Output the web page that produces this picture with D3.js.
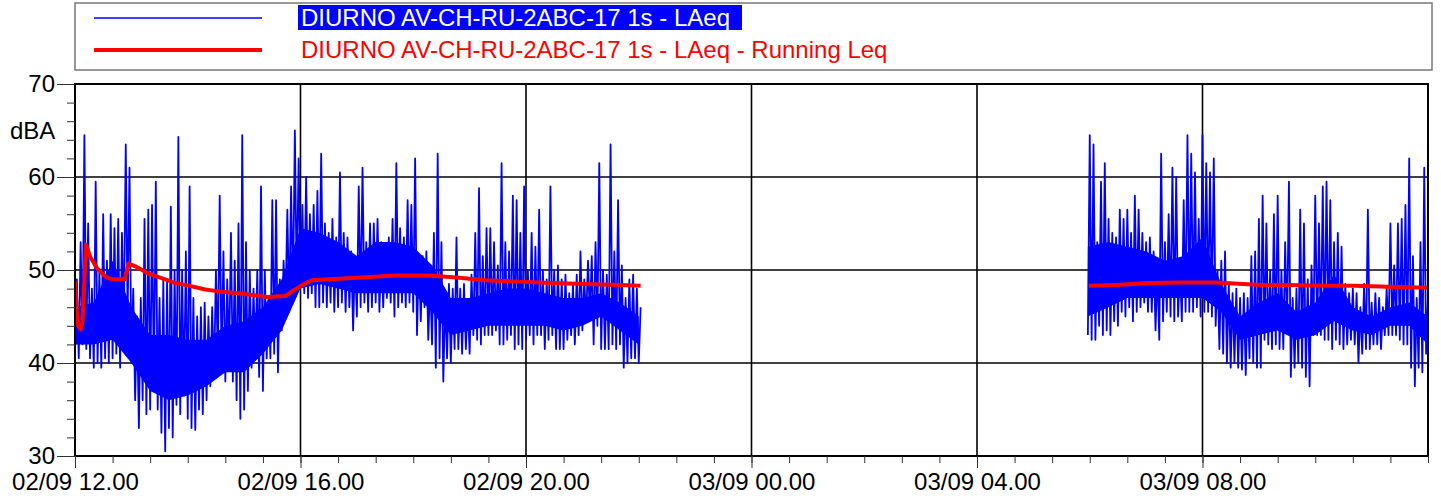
<!DOCTYPE html>
<html>
<head>
<meta charset="utf-8">
<script src="https://cdn.jsdelivr.net/npm/d3@7"></script>
<style>
  body { margin: 0; background: #fff; }
  svg { display: block; font-family: "Liberation Sans", Arial, sans-serif; }
</style>
</head>
<body>
<script>
// LAeq 1s, read as low/high envelope per 4 minute bucket
const seg1Start = new Date(2000, 8, 2, 12, 0)   // 02/09 12.00
const seg1Lo = [41,40.5,42,41.5,40.5,39.5,40,39.5,40.5,40,40.5,41,39.5,44,45,40.5,36,33,36,34.5,
  35,37,35,32.5,30.5,33,32,35.5,34.5,36.5,34,33,32.8,35,34.5,36,37.5,38.5,40.5,40,
  38,40.5,38,36,34,35,37,39.5,40.5,38.5,37,40.5,40.5,41,39,43.5,46,45.5,47,48,
  48.5,47.5,47,47.5,46,46,46.5,46,46.5,45.5,46,46.5,45.5,46,43.5,45,46,46.5,45.5,46,
  46.5,45.5,46,47,46.5,45,46,46.5,46,46.5,45.5,43,44.5,46,42.5,42,39.5,40.5,38,40.5,
  40,41.5,41.5,41,41.5,41,43,42.5,42,43,43,43,43.5,42,42,42.5,43,41.5,42,41.5,
  42.5,43,42,43,43,41.5,42.5,43,41.5,41.5,41.5,42.5,43,42,43,43.5,44.5,45,42,44,
  41.5,41.5,41.5,42,41.5,42,39.5,40,40.5,40.5,40]
const seg1Hi = [49,53,64.5,55,48,59.5,50,56,51,56,54.5,55.5,54,63.5,61,48,45,47,55.5,56.5,
  57,59.5,47,49,49,56.8,50,64.3,50,52,59,47,45,46,46.5,45,46,50,58,52,
  49,54,51,55,64.5,53,50,48,50,59,50,47,57.5,57.5,49,51,56.5,59,65,62,
  57,60,56,57,58.5,62.5,55,54,55.5,53.5,60.5,54,53.5,52,51.5,59,61,53,55,55,
  55.5,53,51.5,53.5,55.5,61.5,54.5,53.5,57.5,57,62,51.5,51.5,52,49,54,62.5,53,47,48.5,
  48,53.5,48,48.5,46.5,49.5,54,58.8,51.5,54.5,54.5,53,50.5,61.5,53,52,58,57.5,54,59,
  50,54,52.5,56.5,50,49,59,50,50.5,49,49.5,47.5,48.5,49.5,52,49,51,51.5,53,61.5,
  50,49.5,63.5,52,57.5,50.5,47,49,49.5,48,46]

const seg2Start = new Date(2000, 8, 3, 5, 58)   // 03/09 05.58
const seg2Lo = [43,42.5,42.5,44,43,43.5,43,44.5,44,45.5,45,46,44.5,45.5,46,46.5,45.5,45.5,43.5,42.5,
  44.5,45.5,45,44.5,45,44.5,45.5,45.5,45.5,46,45,45.5,45.5,45,44,41.5,41,40,39.5,40,
  39.5,39.3,38.7,40.5,40,39.5,39.5,42.5,42,41.5,42,41.5,41.5,43.5,38.5,39.5,40,39.5,38.5,37.5,
  43,43,43,42.5,42.5,41.5,42.5,42,41.5,42,42.5,42,40,41,41.5,41.5,42,42,41.5,43,
  43,43,43,42.5,42,42,39.5,37.5,39.5,39,41]
const seg2Hi = [64.5,63.5,53,59.5,61.5,55.5,54,53.5,56.5,55.5,56.5,54,58,56.5,54,53,53.5,52,50,62.5,
  53,56,61,60,50.5,57.5,64.5,62.5,60.5,55.5,64.5,61.5,60.5,62,50,51,52,48.5,47.5,48,
  47,47.5,47,51.5,52,55.5,58,55,50,56,58,50,53,59.5,47,48,56.5,55,49,50.5,
  58,55,59,59.5,57.5,53,54,52.5,48.5,47.5,48,47.5,46,48.5,56.5,46.5,47.5,47,46,48,
  55,50.5,55,55.5,57,62,51.5,47,53,61,47]

// solid inner core of the 1s trace, every 20 minutes (minutes after 02/09 12.00)
const core1Min = d3.range(0, 601, 20)
const core1Lo = [42,42,42.5,40,37,36,36.5,37.5,39,39,41,43.5,48,48.5,48,47.5,
  47.5,47.5,47.5,45.5,43,43.5,44,44,44,44,43.5,44,45,43.5,42]
const core1Hi = [46,46.5,51,46,43,43,42.5,42.5,44,44.5,46,49,54.5,54,53,51.5,
  53,53,52.5,50.5,47,47,47.5,48,48,47.5,47,47,47.5,46.5,45]
const core2Min = [1078,1100,1120,1140,1160,1180,1200,1220,1240,1260,1280,1300,1320,1340,1360,1380,1400,1420,1440]
const core2Lo = [45,46,47,47,47,47,47,45.5,42.5,43,43.5,42.5,43,44.5,43.5,43,44,44,42]
const core2Hi = [52.5,53,52.5,52,51,51.5,53.5,48.5,45,46.5,47.5,45.5,46.5,49.5,46,45,46,46.5,45]

// running Leq, minutes after 02/09 12.00
const run1Min = [0,2,3.5,6,8,11.7,16.3,23.4,32.3,39.4,52.9,57.1,64.2,78.4,96,106.8,117.4,138.7,
  152.8,174,204,224,231,242,252,270,305,341,376,406,437,472,508,543,579,602]
const run1Val = [48.8,45.5,44,43.6,44.5,52.7,51.4,50.2,49.3,49,49,50.7,50.4,49.6,49,48.6,48.4,47.9,
  47.7,47.5,47.1,47.2,47.7,48.4,48.9,49,49.2,49.4,49.4,49.2,48.9,48.75,48.6,48.5,48.4,48.3]
const run2Min = [1079,1107,1143,1178,1214,1263,1291,1327,1362,1398,1440]
const run2Val = [48.3,48.4,48.6,48.65,48.65,48.4,48.4,48.3,48.3,48.2,48.1]

const yTicks = [30, 40, 50, 60, 70]
const legendNames = ["DIURNO AV-CH-RU-2ABC-17 1s - LAeq", "DIURNO AV-CH-RU-2ABC-17 1s - LAeq - Running Leq"]

const width = 1441
const height = 501
const pLeft = 75, pRight = 1428, pTop = 84, pBottom = 456

const x = d3.scaleTime()
  .domain([seg1Start, d3.timeHour.offset(seg1Start, 24)])
  .range([pLeft, pRight])
const y = d3.scaleLinear()
  .domain([30, 70])
  .range([pBottom, pTop])

const svg = d3.select("body").append("svg")
  .attr("width", width)
  .attr("height", height)

svg.append("clipPath").attr("id", "clip")
  .append("rect")
  .attr("x", pLeft).attr("y", pTop)
  .attr("width", pRight - pLeft).attr("height", pBottom - pTop)

const atMin = m => new Date(+seg1Start + m * 60000)

// build zigzag points from the envelopes
function zigzag(start, lo, hi) {
  const pts = []
  lo.forEach((v, i) => {
    pts.push({t: d3.timeMinute.offset(start, 4 * i), v: v})
    pts.push({t: d3.timeMinute.offset(start, 4 * i + 2), v: hi[i]})
  })
  return pts
}
const laeq1 = zigzag(seg1Start, seg1Lo, seg1Hi)
const laeq2 = zigzag(seg2Start, seg2Lo, seg2Hi)
const core1 = core1Min.map((m, i) => ({t: atMin(m), lo: core1Lo[i], hi: core1Hi[i]}))
const core2 = core2Min.map((m, i) => ({t: atMin(m), lo: core2Lo[i], hi: core2Hi[i]}))
const run1 = run1Min.map((m, i) => ({t: atMin(m), v: run1Val[i]}))
const run2 = run2Min.map((m, i) => ({t: atMin(m), v: run2Val[i]}))

// grid
const majorX = d3.range(0, 25, 4).map(h => d3.timeHour.offset(seg1Start, h))
svg.append("g")
  .selectAll("line")
  .data(majorX.slice(1, -1))
  .enter().append("line")
  .attr("x1", d => x(d)).attr("x2", d => x(d))
  .attr("y1", pTop).attr("y2", pBottom)
  .attr("stroke", "#000").attr("stroke-width", 1.6)
svg.append("g")
  .selectAll("line")
  .data(yTicks.slice(1, -1))
  .enter().append("line")
  .attr("x1", pLeft).attr("x2", pRight)
  .attr("y1", d => y(d)).attr("y2", d => y(d))
  .attr("stroke", "#000").attr("stroke-width", 1.6)

// series
const line = d3.line().x(d => x(d.t)).y(d => y(d.v))
const band = d3.area().x(d => x(d.t)).y0(d => y(d.lo)).y1(d => y(d.hi))
const plot = svg.append("g").attr("clip-path", "url(#clip)")
;[core1, core2].forEach(s => {
  plot.append("path")
    .attr("d", band(s))
    .attr("fill", "#0000ff")
})
;[laeq1, laeq2].forEach(s => {
  plot.append("path")
    .attr("d", line(s))
    .attr("fill", "none")
    .attr("stroke", "#0000ff")
    .attr("stroke-width", 1.8)
    .attr("stroke-linejoin", "round")
})
;[run1, run2].forEach(s => {
  plot.append("path")
    .attr("d", line(s))
    .attr("fill", "none")
    .attr("stroke", "#ff0000")
    .attr("stroke-width", 4)
    .attr("stroke-linejoin", "round")
})

// frame
svg.append("rect")
  .attr("x", pLeft).attr("y", pTop)
  .attr("width", pRight - pLeft).attr("height", pBottom - pTop)
  .attr("fill", "none").attr("stroke", "#000").attr("stroke-width", 2)

// y axis
const yMinor = d3.range(30, 71, 2)
svg.append("g")
  .attr("transform", "translate(" + pLeft + ",0)")
  .call(d3.axisLeft(y).tickValues(yMinor).tickSize(8).tickFormat(""))
  .call(g => g.select(".domain").remove())
  .selectAll("line").attr("stroke", "#333")
const gY = svg.append("g")
  .attr("transform", "translate(" + pLeft + ",0)")
  .call(d3.axisLeft(y).tickValues(yTicks).tickSize(18).tickPadding(2).tickFormat(d3.format("d")))
gY.select(".domain").remove()
gY.selectAll("line").attr("stroke", "#333")
gY.selectAll("text").attr("font-size", 24).attr("fill", "#000").attr("font-family", null)

svg.append("text")
  .attr("x", 10).attr("y", 139)
  .attr("font-size", 24)
  .text("dBA")

// x axis
const xMinor = d3.range(0, 24 * 60 + 1, 40).map(m => d3.timeMinute.offset(seg1Start, m))
svg.append("g")
  .attr("transform", "translate(0," + pBottom + ")")
  .call(d3.axisBottom(x).tickValues(xMinor).tickSize(7).tickFormat(""))
  .call(g => g.select(".domain").remove())
  .selectAll("line").attr("stroke", "#333")
const gX = svg.append("g")
  .attr("transform", "translate(0," + pBottom + ")")
  .call(d3.axisBottom(x).tickValues(majorX.slice(0, -1)).tickSize(12).tickPadding(5)
    .tickFormat(d3.timeFormat("%d/%m %H.%M")))
gX.select(".domain").remove()
gX.selectAll("line").attr("stroke", "#333")
gX.selectAll("text").attr("font-size", 24).attr("fill", "#000").attr("font-family", null)

// legend
const legend = svg.append("g")
legend.append("rect")
  .attr("x", 75).attr("y", 3).attr("width", 1357).attr("height", 67)
  .attr("fill", "#fff").attr("stroke", "#777").attr("stroke-width", 1.5)
legend.append("rect")
  .attr("x", 298).attr("y", 5).attr("width", 444).attr("height", 25)
  .attr("fill", "#0000ff")
const legColors = [["#0000ff", 1.5, "#fff"], ["#ff0000", 4, "#ff0000"]]
legend.selectAll("line")
  .data(legColors)
  .enter().append("line")
  .attr("x1", 94).attr("x2", 262)
  .attr("y1", (d, i) => 18 + i * 32).attr("y2", (d, i) => 18 + i * 32)
  .attr("stroke", d => d[0]).attr("stroke-width", d => d[1])
legend.selectAll("text")
  .data(legendNames)
  .enter().append("text")
  .attr("x", 301)
  .attr("y", (d, i) => 26 + i * 32)
  .attr("font-size", 24)
  .attr("fill", (d, i) => legColors[i][2])
  .text(d => d)
</script>
</body>
</html>
